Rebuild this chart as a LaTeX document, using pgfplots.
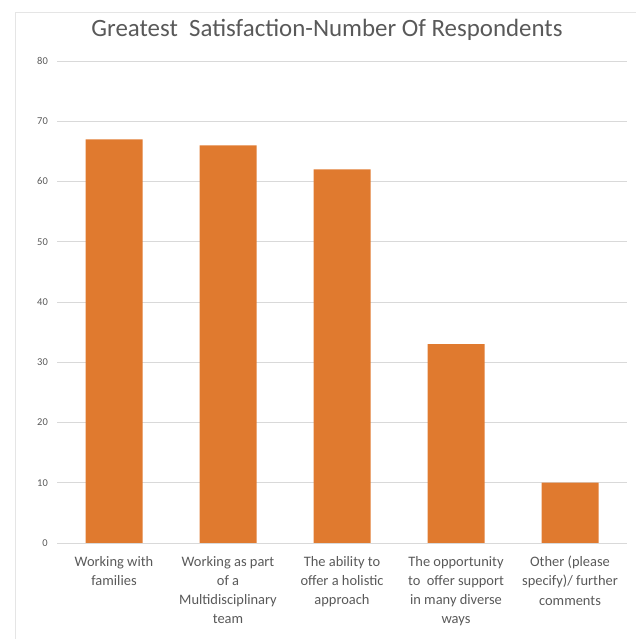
\documentclass[border=0pt]{standalone}
\usepackage{pgfplots}
\pgfplotsset{compat=1.18}
\usepackage{fontspec}
\setmainfont{Carlito}
\definecolor{barorange}{HTML}{E07A2F}
\definecolor{txtgray}{HTML}{595959}
\definecolor{gridgray}{HTML}{D9D9D9}
\begin{document}
\begin{tikzpicture}[x=1bp,y=1bp]
\path[use as bounding box] (0,0) rectangle (636,639);
\draw[gray!20, line width=0.8bp] (15,0) rectangle (636,627);
\begin{axis}[
  at={(57bp,96bp)}, anchor=south west,
  scale only axis, width=570bp, height=482bp,
  xmin=-0.5, xmax=4.5, ymin=0, ymax=80,
  ytick={0,10,...,80},
  xtick={0,1,2,3,4},
  xticklabels={Working with\\families, Working as part\\of a\\Multidisciplinary\\team, The ability to\\offer a holistic\\approach, The opportunity\\to\ \ offer support\\in many diverse\\ways, Other (please\\specify)/ further\\comments},
  ymajorgrids, grid style={gridgray, line width=0.9bp},
  axis line style={draw=none}, major tick length=0pt,
  /pgf/number format/assume math mode=true,
  yticklabel style={font=\fontsize{10.5}{12}\selectfont, color=txtgray, anchor=east, inner sep=0pt, xshift=-9bp},
  xticklabel style={font=\fontsize{14.5}{19.3}\selectfont, color=txtgray, anchor=north, inner sep=0pt, align=center, yshift=-13bp},
  title={Greatest\ \ Satisfaction-Number Of Respondents},
  title style={font=\fontsize{25}{28}\selectfont, color=txtgray, anchor=base, at={(0.5,1)}, yshift=19bp, xshift=-15bp},
]
\addplot[ybar, fill=barorange, draw=none, bar width=57bp] coordinates {(0,67) (1,66) (2,62) (3,33) (4,10)};
\end{axis}
\end{tikzpicture}
\end{document}
